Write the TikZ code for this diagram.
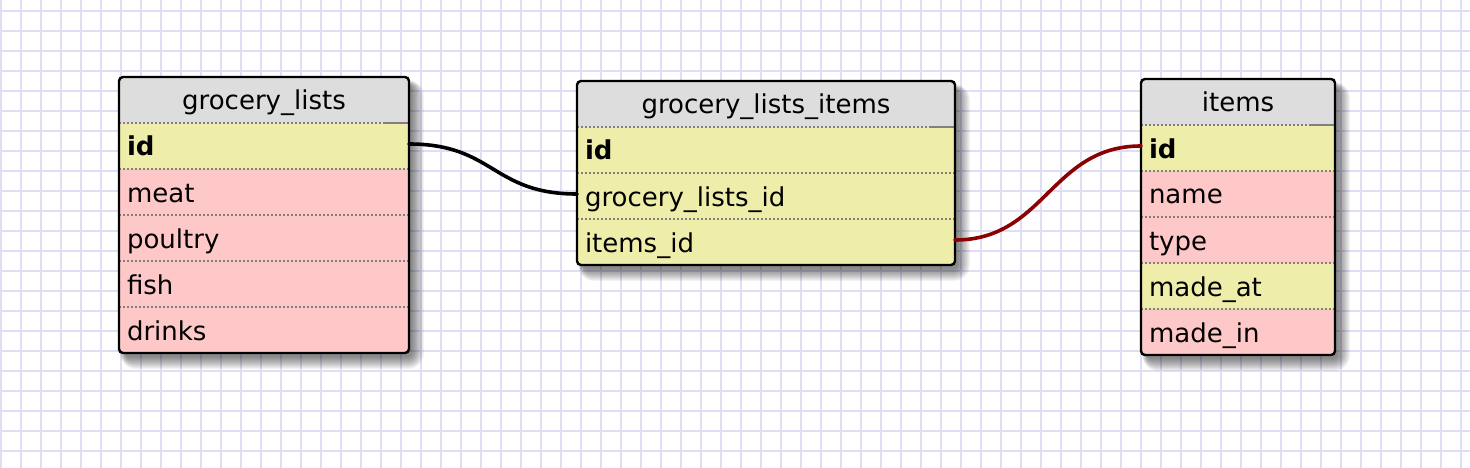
\documentclass[tikz,border=0pt]{standalone}
\usepackage{fontspec}
\setmainfont{DejaVu Sans}
\definecolor{gridc}{RGB}{222,222,246}
\definecolor{hdrc}{RGB}{221,221,221}
\definecolor{keyc}{RGB}{238,238,170}
\definecolor{fldc}{RGB}{255,200,200}
\definecolor{sepc}{RGB}{128,128,128}
\definecolor{fkc}{RGB}{139,0,0}
\tikzset{
  gridline/.style={draw=gridc, line width=2pt},
  cell/.style={anchor=north west, minimum height=46pt, inner xsep=8pt, inner ysep=0pt,
    outer sep=0pt, text height=23pt, text depth=3pt, align=left, text width=#1,
    font=\fontsize{26}{30}\selectfont},
  hdr/.style={cell=#1, align=center, fill=hdrc},
  keyrow/.style={cell=#1, fill=keyc},
  fldrow/.style={cell=#1, fill=fldc},
  frame/.style={draw=black, line width=2.4pt, rounded corners=4pt},
  shadowlayer/.style={fill=black, opacity=0.045},
  sepline/.style={draw=sepc, line width=1.8pt, dash pattern=on 1.8pt off 2.2pt},
  sepsolid/.style={draw=sepc, line width=1.8pt},
  link/.style={line width=3.6pt, line cap=round},
}
\begin{document}
\begin{tikzpicture}[x=1pt, y=-1pt]
\useasboundingbox (0,0) rectangle (1470,468);
\fill[white] (0,0) rectangle (1470,468);
\foreach \gx in {1,21,...,1461} \draw[gridline] (\gx,0) -- (\gx,468);
\foreach \gy in {11,31,...,451} \draw[gridline] (0,\gy) -- (1470,\gy);

% soft drop shadows behind the tables (bottom-right)
\foreach \x/\y/\X/\Y in {119/77/409/353, 577/81/955/265, 1141/79/1335/355}
  \foreach \e in {0,1,...,12}
    \fill[shadowlayer, rounded corners=4+\e] (\x+6-0.4*\e,\y+8-0.4*\e) rectangle (\X+3+\e,\Y+4+\e);

% grocery_lists
\node[hdr=274pt] (gl) at (119,77) {grocery\_lists};
\node[keyrow=274pt] (gl-id) at (119,123) {\textbf{id}};
\node[fldrow=274pt] (gl-meat) at (119,169) {meat};
\node[fldrow=274pt] (gl-poultry) at (119,215) {poultry};
\node[fldrow=274pt] (gl-fish) at (119,261) {fish};
\node[fldrow=274pt] (gl-drinks) at (119,307) {drinks};

% grocery_lists_items
\node[hdr=362pt] (gli) at (577,81) {grocery\_lists\_items};
\node[keyrow=362pt] (gli-id) at (577,127) {\textbf{id}};
\node[keyrow=362pt] (gli-glid) at (577,173) {grocery\_lists\_id};
\node[keyrow=362pt] (gli-iid) at (577,219) {items\_id};

% items
\node[hdr=178pt] (it) at (1141,79) {items};
\node[keyrow=178pt] (it-id) at (1141,125) {\textbf{id}};
\node[fldrow=178pt] (it-name) at (1141,171) {name};
\node[fldrow=178pt] (it-type) at (1141,217) {type};
\node[keyrow=178pt] (it-madeat) at (1141,263) {made\_at};
\node[fldrow=178pt] (it-madein) at (1141,309) {made\_in};

% separators
\foreach \r in {gl-id,gl-meat,gl-poultry,gl-fish,gl-drinks,gli-id,gli-glid,gli-iid,it-id,it-name,it-type,it-madeat,it-madein}
  \draw[sepline] (\r.north west) -- (\r.north east);
\foreach \r in {gl-id,gli-id,it-id}
  \draw[sepsolid] ([xshift=-26pt]\r.north east) -- (\r.north east);

% frames
\draw[frame] (gl.north west) rectangle (gl-drinks.south east);
\draw[frame] (gli.north west) rectangle (gli-iid.south east);
\draw[frame] (it.north west) rectangle (it-madein.south east);

% connectors
\draw[link, black] ([yshift=2pt]gl-id.east) .. controls +(85,0) and +(-85,0) .. ([yshift=2pt]gli-glid.west);
\draw[link, fkc] ([yshift=2pt]gli-iid.east) .. controls +(90,0) and +(-90,0) .. ([yshift=2pt]it-id.west);
\end{tikzpicture}
\end{document}
